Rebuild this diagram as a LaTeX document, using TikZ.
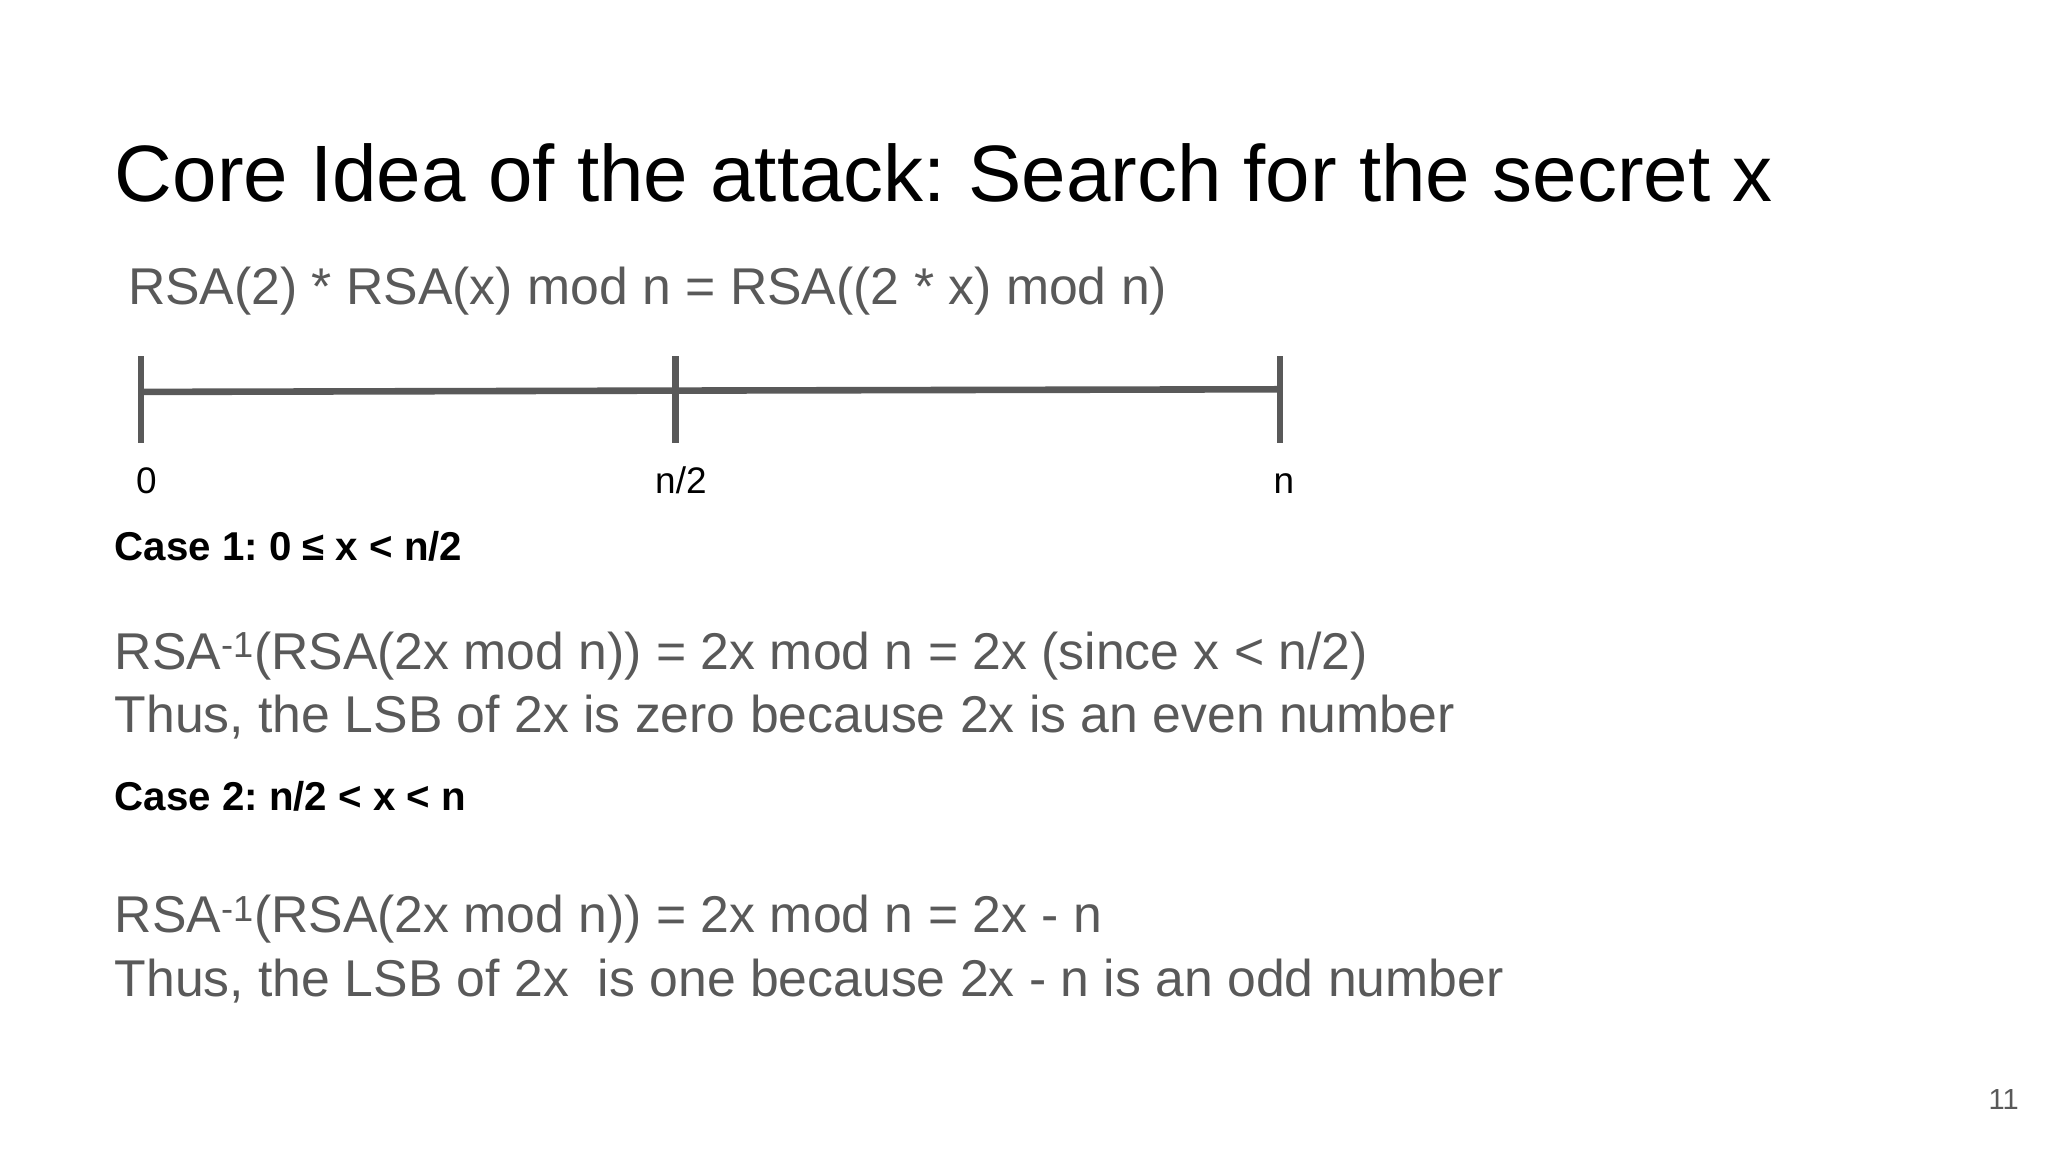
\documentclass[tikz,border=0pt]{standalone}
\usepackage{fontspec}
\setmainfont{Liberation Sans}
\frenchspacing
\definecolor{txtgray}{HTML}{595959}
\definecolor{linegray}{HTML}{595959}
\tikzset{
  lbl/.style={anchor=base west,inner sep=0pt,outer sep=0pt},
  body/.style={lbl,text=txtgray,font=\fontsize{39.2}{47}\selectfont},
  casel/.style={lbl,text=black,font=\fontsize{30.5}{36}\selectfont\bfseries},
  tick/.style={draw=linegray,line width=5pt},
  axis/.style={draw=linegray,line width=5pt},
  axlbl/.style={anchor=base,inner sep=0pt,text=black,font=\fontsize{28}{32}\selectfont}
}
\begin{document}
\begin{tikzpicture}[x=1pt,y=-1pt]
\useasboundingbox[fill=white] (0,0) rectangle (1552,873);
\node[lbl,font=\fontsize{60.6}{72}\selectfont] (title) at (87,153) {Core Idea of the attack: Search for the secret x};
\node[body] (eq) at (97,231) {RSA(2) * RSA(x) mod n = RSA((2 * x) mod n)};
\coordinate (a) at (107,297);
\coordinate (m) at (512,296);
\coordinate (b) at (970,295);
\draw[axis] (a) -- (m) -- (b);
\draw[tick] (107,270) -- (107,336);
\draw[tick] (512,270) -- (512,336);
\draw[tick] (970,270) -- (970,336);
\node[axlbl] (l0) at (111,374) {0};
\node[axlbl] (l1) at (516,374) {n/2};
\node[axlbl] (l2) at (973,374) {n};
\node[casel] (c1) at (87,425) {Case 1: 0 ≤ x < n/2};
\node[body] (b1) at (87,507) {RSA\textsuperscript{-1}(RSA(2x mod n)) = 2x mod n = 2x (since x < n/2)};
\node[body] (b2) at (87,555) {Thus, the LSB of 2x is zero because 2x is an even number};
\node[casel] (c2) at (87,614) {Case 2: n/2 < x < n};
\node[body] (b3) at (87,707) {RSA\textsuperscript{-1}(RSA(2x mod n)) = 2x mod n = 2x - n};
\node[body] (b4) at (87,755) {Thus, the LSB of 2x\ \ is one because 2x - n is an odd number};
\node[anchor=base east,inner sep=0pt,text=txtgray,font=\fontsize{22}{26}\selectfont] (pg) at (1530,841) {11};
\end{tikzpicture}
\end{document}
